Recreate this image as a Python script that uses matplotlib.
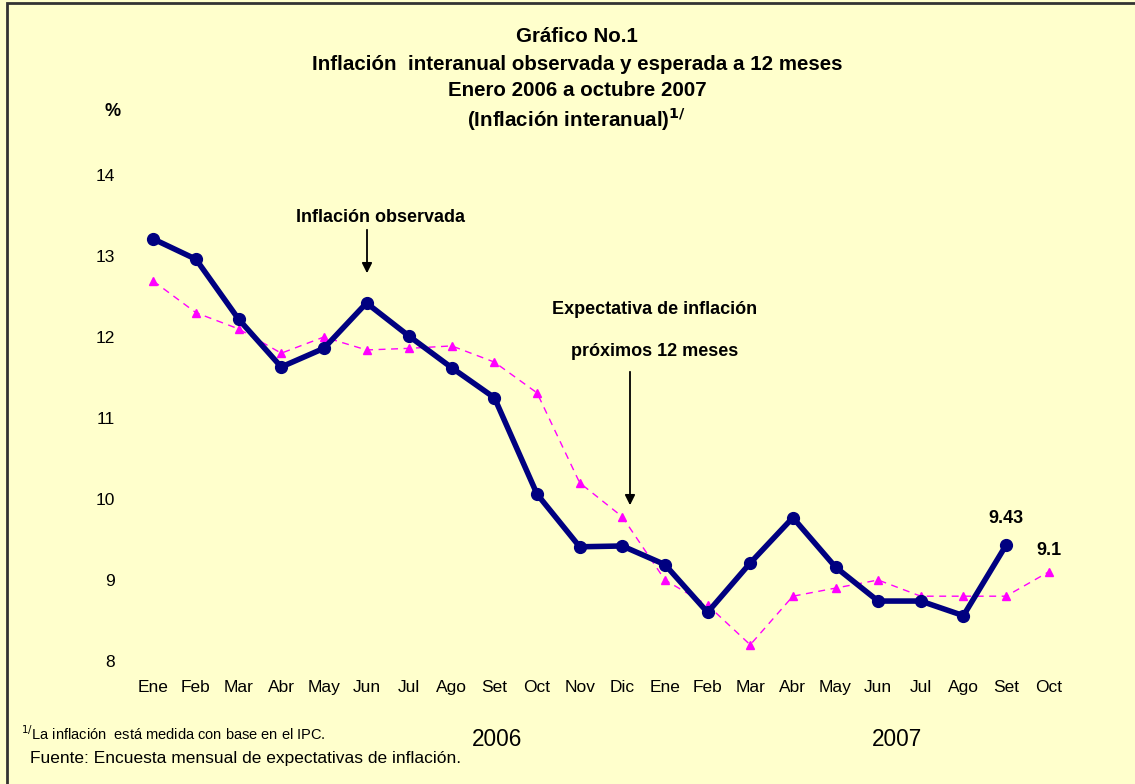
import matplotlib.pyplot as plt
from matplotlib.patches import Rectangle

plt.rcParams["font.family"] = ["Liberation Sans", "DejaVu Sans"]

meses = ["Ene", "Feb", "Mar", "Abr", "May", "Jun", "Jul", "Ago", "Set", "Oct",
         "Nov", "Dic", "Ene", "Feb", "Mar", "Abr", "May", "Jun", "Jul", "Ago",
         "Set", "Oct"]
observada = [13.21, 12.96, 12.22, 11.63, 11.86, 12.42, 12.01, 11.62, 11.25,
             10.06, 9.41, 9.42, 9.19, 8.60, 9.21, 9.77, 9.16, 8.74, 8.74,
             8.56, 9.43]
esperada = [12.69, 12.30, 12.10, 11.80, 12.00, 11.84, 11.86, 11.89, 11.69,
            11.31, 10.20, 9.78, 9.00, 8.69, 8.20, 8.80, 8.90, 9.00, 8.80,
            8.80, 8.80, 9.10]
y_ticks = [8, 9, 10, 11, 12, 13, 14]

W, H = 1135, 784
fig = plt.figure(figsize=(W / 100, H / 100), dpi=100)
bg = "#FFFFCC"
fig.patch.set_facecolor(bg)

# frame around the chart (right and bottom edges fall outside the picture)
fig.patches.append(Rectangle((7 / W, -0.05), 1.2, 1 - 3 / H + 0.05,
                             transform=fig.transFigure, fill=False,
                             edgecolor="#333333", lw=2))

ax = fig.add_axes([132 / W, 1 - 661 / H, 938 / W, 486 / H])
ax.set_facecolor(bg)
x_obs = list(range(len(observada)))
x_esp = list(range(len(esperada)))

ax.plot(x_esp, esperada, color="#FF00FF", lw=1, ls=(0, (5, 4)),
        marker="^", ms=5.5, zorder=2)
ax.plot(x_obs, observada, color="#000080", lw=4, marker="o", ms=8.5,
        zorder=3)

ax.set_xlim(-0.5, len(meses) - 0.5)
ax.set_ylim(8, 14)
ax.set_xticks(range(len(meses)))
ax.set_xticklabels(meses)
ax.set_yticks(y_ticks)
ax.tick_params(length=0, labelsize=12.5, pad=14)
ax.tick_params(axis="y", pad=12)
for s in ax.spines.values():
    s.set_visible(False)

# value labels
ax.text(20, 9.43 + 0.33, "9.43", ha="center", va="center",
        fontsize=13, fontweight="bold")
ax.text(21, 9.1 + 0.27, "9.1", ha="center", va="center",
        fontsize=13, fontweight="bold")

# annotations with arrows
fig.text(380 / W, 1 - 217 / H, "Inflación observada",
         ha="center", va="center", fontsize=13, fontweight="bold")
ax.annotate("", xy=(367 / W, 1 - 276 / H), xytext=(367 / W, 1 - 227 / H),
            xycoords="figure fraction",
            arrowprops=dict(arrowstyle="-|>", color="black", lw=1.3,
                            mutation_scale=15))
fig.text(655 / W, 1 - 310 / H, "Expectativa de inflación",
         ha="center", va="center", fontsize=13, fontweight="bold")
fig.text(655 / W, 1 - 351 / H, "próximos 12 meses",
         ha="center", va="center", fontsize=13, fontweight="bold")
ax.annotate("", xy=(630 / W, 1 - 508 / H), xytext=(630 / W, 1 - 369 / H),
            xycoords="figure fraction",
            arrowprops=dict(arrowstyle="-|>", color="black", lw=1.3,
                            mutation_scale=15))

# titles
titulos = ["Gráfico No.1",
           "Inflación  interanual observada y esperada a 12 meses",
           "Enero 2006 a octubre 2007"]
for i, t in enumerate(titulos):
    fig.text(577 / W, 1 - (37 + 27 * i) / H, t, ha="center", va="center",
             fontsize=14.8, fontweight="bold")
fig.text(577 / W, 1 - 119 / H, r"(Inflación interanual)$^{\mathbf{1/}}$",
         ha="center", va="center", fontsize=14.8, fontweight="bold")
fig.text(113 / W, 1 - 112 / H, "%", ha="center", va="center",
         fontsize=13, fontweight="bold")

# years
fig.text(497 / W, 1 - 740 / H, "2006", ha="center", va="center", fontsize=16.3)
fig.text(897 / W, 1 - 740 / H, "2007", ha="center", va="center", fontsize=16.3)

# footnotes
fig.text(21 / W, 1 - 734 / H,
         r"$^{1/}$La inflación  está medida con base en el IPC.",
         ha="left", va="center", fontsize=10.5)
fig.text(30 / W, 1 - 758 / H,
         "Fuente: Encuesta mensual de expectativas de inflación.",
         ha="left", va="center", fontsize=12.5)

fig.savefig("out.png", dpi=100, facecolor=bg)
